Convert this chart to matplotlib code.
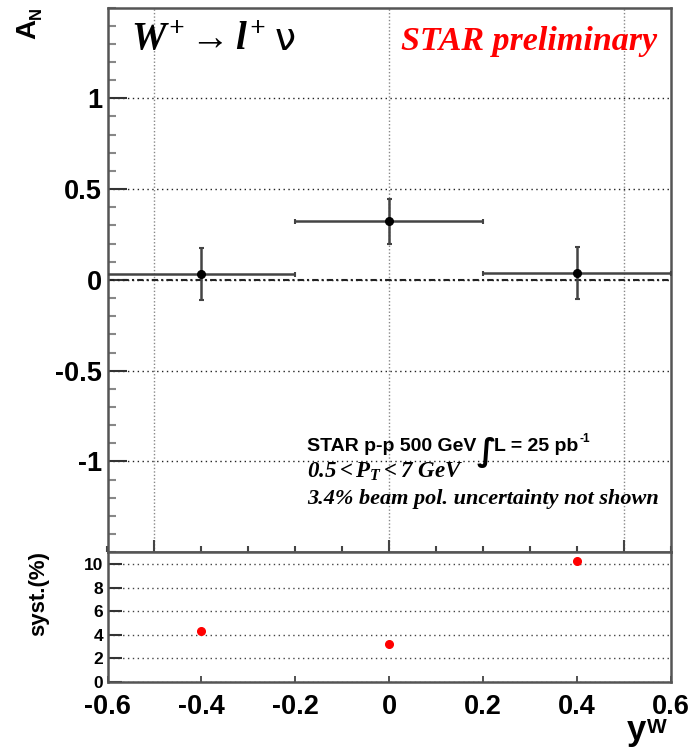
import matplotlib
matplotlib.use("Agg")
import matplotlib.pyplot as plt
from matplotlib.ticker import MultipleLocator, FixedLocator, NullFormatter

plt.rcParams["font.family"] = ["Liberation Sans", "DejaVu Sans"]
plt.rcParams["font.weight"] = "bold"
plt.rcParams["mathtext.fontset"] = "custom"
plt.rcParams["mathtext.rm"] = "Liberation Serif:bold:italic"
plt.rcParams["mathtext.it"] = "Liberation Serif:bold:italic"
plt.rcParams["mathtext.bf"] = "Liberation Serif:bold:italic"

# W rapidity bins
yw_centers = [-0.4, 0.0, 0.4]
yw_halfwidth = [0.2, 0.2, 0.2]
# transverse single-spin asymmetry and its statistical error
an_values = [0.035, 0.322, 0.038]
an_errors = [0.143, 0.122, 0.141]
# relative systematic uncertainty (%)
syst_values = [4.3, 3.2, 10.3]

x_ticks_bottom = [-0.6, -0.4, -0.2, 0.0, 0.2, 0.4, 0.6]
x_ticklabels_bottom = ["-0.6", "-0.4", "-0.2", "0", "0.2", "0.4", "0.6"]
an_ticks = [-1.0, -0.5, 0.0, 0.5, 1.0]
an_ticklabels = ["-1", "-0.5", "0", "0.5", "1"]
syst_ticks = [0, 2, 4, 6, 8, 10]
syst_ticklabels = ["0", "2", "4", "6", "8", "10"]

W, H = 691, 750
fig = plt.figure(figsize=(W / 100, H / 100), dpi=100)


def fx(x):
    return x / W


def fy(y):
    return 1 - y / H


frame_col = "#555555"
left, right = 107.5, 671.0
top_ax = fig.add_axes([fx(left), fy(552.3), fx(right) - fx(left), fy(7.5) - fy(552.3)])
bot_ax = fig.add_axes([fx(left), fy(681.7), fx(right) - fx(left), fy(552.3) - fy(681.7)])

for ax in (top_ax, bot_ax):
    for s in ax.spines.values():
        s.set_color(frame_col)
        s.set_linewidth(1.8)
    ax.set_xlim(-0.6, 0.6)

# ---- upper panel: A_N ----
top_ax.set_ylim(-1.5, 1.5)
top_ax.xaxis.set_major_locator(FixedLocator([-0.5, 0.0, 0.5]))
top_ax.xaxis.set_minor_locator(MultipleLocator(0.1))
top_ax.xaxis.set_major_formatter(NullFormatter())
top_ax.yaxis.set_major_locator(FixedLocator(an_ticks))
top_ax.set_yticklabels(an_ticklabels)
top_ax.yaxis.set_minor_locator(MultipleLocator(0.1))
top_ax.tick_params(axis="y", which="major", direction="in", length=14, width=1.5,
                   color="#333333", labelsize=19.5, pad=4, right=False)
top_ax.tick_params(axis="y", which="minor", direction="in", length=6, width=1.5,
                   color="#888888", right=False)
top_ax.tick_params(axis="x", which="major", direction="in", length=9, width=1.5,
                   color="#444444", top=False)
top_ax.tick_params(axis="x", which="minor", direction="in", length=4.5, width=1.5,
                   color="#444444", top=False)
for lab in top_ax.get_yticklabels():
    lab.set_fontweight("bold")

top_ax.grid(True, axis="y", which="major", linestyle=(0, (1, 2.5)), color="#222222", lw=1.0)
top_ax.grid(True, axis="x", which="major", linestyle=(0, (1, 1.5)), color="#888888", lw=1.0)
top_ax.axhline(0, color="#222222", lw=1.5, linestyle=(0, (3, 1.5, 1, 1.5)), zorder=2)

top_ax.errorbar(yw_centers, an_values, xerr=yw_halfwidth, yerr=an_errors, fmt="o",
                color="black", ms=5.5, ecolor="#444444", elinewidth=1.8,
                capsize=1.8, capthick=1.5, zorder=4, clip_on=True)

# ---- lower panel: systematic uncertainty ----
bot_ax.set_ylim(0, 11)
bot_ax.xaxis.set_major_locator(FixedLocator(x_ticks_bottom))
bot_ax.set_xticklabels(x_ticklabels_bottom)
bot_ax.yaxis.set_major_locator(FixedLocator(syst_ticks))
bot_ax.set_yticklabels(syst_ticklabels)
bot_ax.tick_params(axis="x", which="major", direction="in", length=4, width=1.3,
                   color="#444444", labelsize=19.5, pad=9, top=False)
bot_ax.tick_params(axis="y", which="major", direction="in", length=10, width=1.5,
                   color="#333333", labelsize=12.5, pad=3, right=False)
for lab in bot_ax.get_xticklabels() + bot_ax.get_yticklabels():
    lab.set_fontweight("bold")
bot_ax.grid(True, axis="y", which="major", linestyle=(0, (1, 2.5)), color="#444444", lw=1.0)
bot_ax.plot(yw_centers, syst_values, "o", color="#ff0000", ms=5.5, zorder=4)

# ---- texts ----
sans = dict(family=["Liberation Sans", "DejaVu Sans"], fontweight="bold", color="black")
serif = dict(family=["Liberation Serif", "DejaVu Serif"], fontweight="bold",
             style="italic")

# axis titles
fig.text(fx(35), fy(39), "A", rotation=90, rotation_mode="anchor", ha="left",
         va="baseline", fontsize=20, **sans)
fig.text(fx(41), fy(19), "N", rotation=90, rotation_mode="anchor", ha="left",
         va="baseline", fontsize=12, **sans)
fig.text(fx(44), fy(594), "syst.(%)", rotation=90, rotation_mode="anchor",
         ha="center", va="baseline", fontsize=16, **sans)
fig.text(fx(627), fy(740), "y", ha="left", va="baseline", fontsize=25, **sans)
fig.text(fx(647), fy(733), "W", ha="left", va="baseline", fontsize=15, **sans)

# headline and preliminary tag
fig.text(fx(131), fy(50), r"$W^{+} \rightarrow l^{+}$", ha="left", va="baseline",
         fontsize=28, color="black")
fig.text(fx(275), fy(50), "\u03bd", ha="left", va="baseline", fontsize=27,
         family=["DejaVu Sans"], fontweight="normal", color="black")
fig.text(fx(657), fy(50), "STAR preliminary", ha="right", va="baseline",
         fontsize=24.5, color="#ff0000", **serif)

# run conditions
fig.text(fx(307), fy(451), "STAR p-p 500 GeV", ha="left", va="baseline",
         fontsize=14, **sans)
fig.text(fx(486), fy(452), "\u222b", ha="center", va="center", fontsize=23,
         family=["DejaVu Sans"], fontweight="bold")
lum = fig.text(fx(494), fy(451), "L = 25 pb", ha="left", va="baseline",
               fontsize=14, **sans)
fig.canvas.draw()
bb = lum.get_window_extent()
fig.text((bb.x1 + 1) / W, fy(442), "-1", ha="left", va="baseline", fontsize=8.5, **sans)
fig.text(fx(307), fy(478), r"$0.5 < P_{T} < 7\ GeV$", ha="left", va="baseline",
         fontsize=16.5, color="black")
fig.text(fx(307), fy(504), "3.4% beam pol. uncertainty not shown", ha="left",
         va="baseline", fontsize=16, color="black", **serif)

fig.savefig("out.png", dpi=100)
